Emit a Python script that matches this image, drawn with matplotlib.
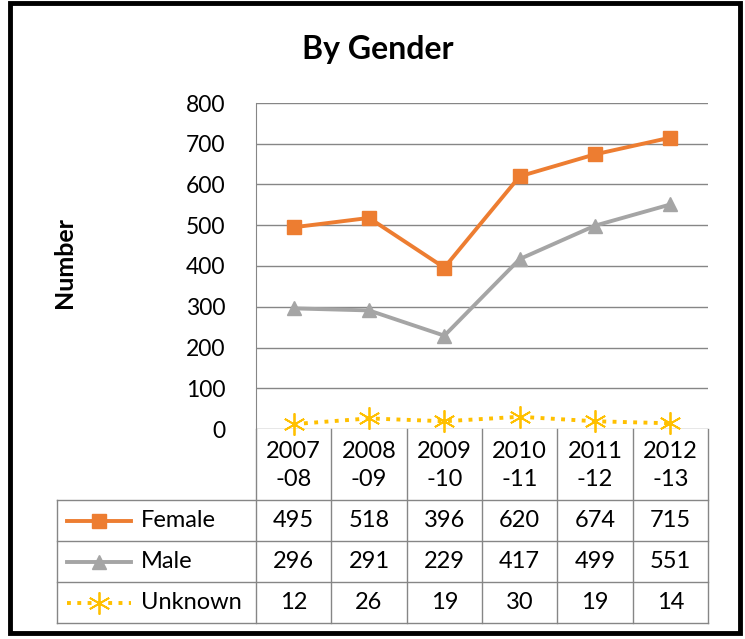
import matplotlib.pyplot as plt
from matplotlib.patches import Rectangle
from matplotlib.lines import Line2D

plt.rcParams['font.family'] = ['Lato', 'DejaVu Sans']

years = ['2007\n-08', '2008\n-09', '2009\n-10', '2010\n-11', '2011\n-12', '2012\n-13']
female = [495, 518, 396, 620, 674, 715]
male = [296, 291, 229, 417, 499, 551]
unknown = [12, 26, 19, 30, 19, 14]

series = [
  ('Female', female, dict(color='#ED7D31', marker='s', markersize=10, linestyle='-', linewidth=2.8)),
  ('Male', male, dict(color='#A5A5A5', marker='^', markersize=10, linestyle='-', linewidth=2.8)),
  ('Unknown', unknown, dict(color='#FFC000', marker=(6, 2, 0), markersize=16, linestyle=':', linewidth=2.8,
                            markeredgewidth=1.3)),
]

W, H = 745, 639
fig = plt.figure(figsize=(W/100, H/100), dpi=100)

def fx(px):
  return px / W

def fy(py):
  return 1 - py / H

left, right, top, bottom = 256, 708, 103, 429
ax = fig.add_axes([fx(left), fy(bottom), fx(right) - fx(left), fy(top) - fy(bottom)])
x = list(range(len(years)))
for name, vals, style in series:
  ax.plot(x, vals, clip_on=False, zorder=3, **style)

ax.set_xlim(-0.5, len(years) - 0.5)
ax.set_ylim(0, 800)
ax.set_yticks(range(0, 801, 100))
ax.tick_params(axis='y', length=0, labelsize=16.5, pad=22)
ax.set_xticks([])
ax.yaxis.grid(True, color='#868686', linewidth=1)
ax.set_axisbelow(True)
for s in ['top', 'right', 'bottom']:
  ax.spines[s].set_visible(False)
ax.spines['left'].set_color('#868686')

fig.text(fx(378), fy(50), 'By Gender', ha='center', va='center', fontsize=23, fontweight='bold')
fig.text(fx(65), fy(263), 'Number', ha='center', va='center', rotation=90, fontsize=18, fontweight='bold')

# data table under the plot
grid_col = '#868686'
colw = (right - left) / len(years)
row_tops = [429, 500, 541, 582, 623]
lab_left = 57

def hline(y, x0, x1):
  fig.add_artist(Line2D([fx(x0), fx(x1)], [fy(y), fy(y)], color=grid_col, linewidth=1))

def vline(xp, y0, y1):
  fig.add_artist(Line2D([fx(xp), fx(xp)], [fy(y0), fy(y1)], color=grid_col, linewidth=1))

for i in range(len(years) + 1):
  vline(left + i * colw, row_tops[0], row_tops[-1])
vline(lab_left, row_tops[1], row_tops[-1])
hline(row_tops[1], lab_left, right)
for y in row_tops[2:]:
  hline(y, lab_left, right)

for i, yr in enumerate(years):
  fig.text(fx(left + (i + 0.5) * colw), fy((row_tops[0] + row_tops[1]) / 2 + 1), yr,
           ha='center', va='center', fontsize=17, linespacing=1.45)

for r, (name, vals, style) in enumerate(series):
  yc = (row_tops[r + 1] + row_tops[r + 2]) / 2
  fig.add_artist(Line2D([fx(67), fx(99), fx(131)], [fy(yc)] * 3, markevery=[1], **style))
  fig.text(fx(141), fy(yc), name, ha='left', va='center', fontsize=17)
  for i, v in enumerate(vals):
    fig.text(fx(left + (i + 0.5) * colw), fy(yc), str(v), ha='center', va='center', fontsize=17)

fig.add_artist(Rectangle((fx(10), fy(633)), fx(740) - fx(10), fy(3) - fy(633),
                         fill=False, edgecolor='black', linewidth=3.5))

fig.savefig('out.png', dpi=100)
